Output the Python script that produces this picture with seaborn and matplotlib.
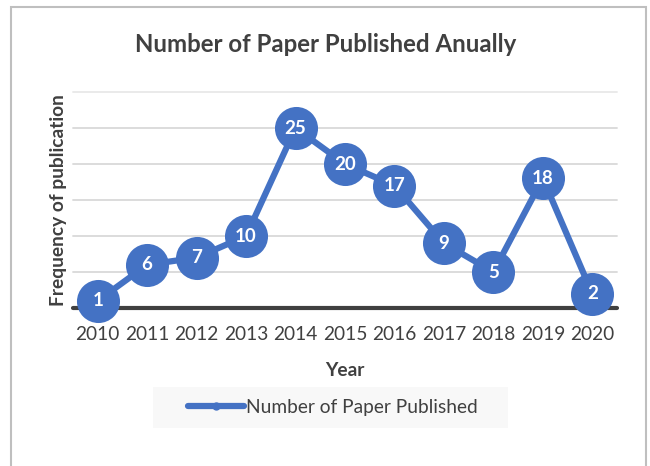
import matplotlib
matplotlib.use("Agg")
import matplotlib.pyplot as plt
import seaborn as sns
import pandas as pd
from matplotlib.lines import Line2D
from matplotlib.patches import Rectangle

years = [2010, 2011, 2012, 2013, 2014, 2015, 2016, 2017, 2018, 2019, 2020]
papers = [1, 6, 7, 10, 25, 20, 17, 9, 5, 18, 2]
series_name = "Number of Paper Published"
title = "Number of Paper Published Anually"
x_label = "Year"
y_label = "Frequency of publication"

sns.set_theme(style="white")
plt.rcParams["font.family"] = ["Lato", "DejaVu Sans"]

df = pd.DataFrame({"Year": years, "Papers": papers})

blue = "#4472C4"
txt = "#404040"

fig = plt.figure(figsize=(6.5, 4.66), dpi=100)
ax = fig.add_axes([73/650, 1-308/466, (617-73)/650, (308-92)/466])

# gridlines
for v in [5, 10, 15, 20, 25, 30]:
    ax.axhline(v, color="#D9D9D9" if v < 30 else "#E8E8E8", lw=1.3, zorder=0)
ax.axhline(0, color="#404040", lw=3, zorder=1)

sns.lineplot(data=df, x="Year", y="Papers", ax=ax, color=blue, lw=4.5,
             marker="o", markersize=31, markeredgewidth=0, zorder=3, clip_on=False)
for line in ax.lines:
    line.set_clip_on(False)

for x, y in zip(years, papers):
    ax.text(x, y, str(y), ha="center", va="center", color="white",
            fontsize=13.5, fontweight="bold", zorder=5)

ax.set_xlim(2009.5, 2020.5)
ax.set_ylim(0, 30)
ax.set_xticks(years)
ax.set_xticklabels([str(y) for y in years], fontsize=13.8, color=txt)
ax.set_yticks([])
ax.tick_params(axis="x", length=0, pad=13)
for s in ax.spines.values():
    s.set_visible(False)
ax.set_xlabel(x_label, fontsize=13.8, fontweight="bold", color=txt, labelpad=14)
ax.set_ylabel(y_label, fontsize=13.8, fontweight="bold", color=txt, labelpad=4)

fig.text(0.5 + 0.5/650, 1-45/466, title, ha="center", va="center", fontsize=17.3,
         fontweight="bold", color=txt)

# chart border
fig.patches.append(Rectangle((11/650, -0.2), (646-11)/650, 1.2-7/466,
                             transform=fig.transFigure, fill=False,
                             edgecolor="#BFBFBF", lw=1.5, zorder=-2))
# legend background box
fig.patches.append(Rectangle((153/650, 1-428/466), (508-153)/650, 41/466,
                             transform=fig.transFigure, facecolor="#F8F8F8",
                             edgecolor="none", zorder=-2))

handle = Line2D([0], [0], color=blue, lw=4.5, marker="o", markersize=6,
                markeredgewidth=0)
fig.legend([handle], [series_name], loc="center", bbox_to_anchor=(333/650, 1-407.5/466),
           bbox_transform=fig.transFigure, frameon=False, fontsize=13.8, labelcolor=txt,
           handlelength=2.9, handletextpad=0.1, borderpad=0.6, borderaxespad=0)

fig.savefig("out.png", dpi=100, facecolor="white")
